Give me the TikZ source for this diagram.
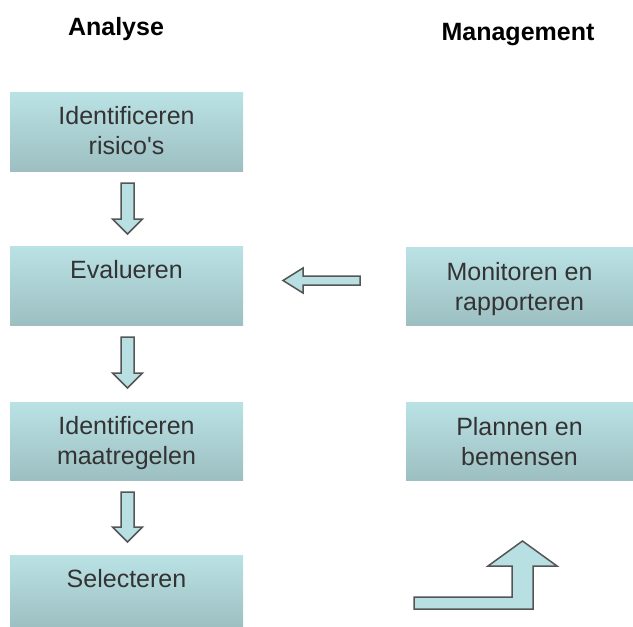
\documentclass[tikz,border=0pt]{standalone}
\usepackage{fontspec}
\setmainfont{Liberation Sans}
\begin{document}
\begin{tikzpicture}[x=1pt,y=-1pt,
  box/.style={rectangle, inner sep=0pt, outer sep=0pt,
    top color=boxtop, bottom color=boxbottom, draw=none},
  boxtext/.style={anchor=north, inner sep=0pt, align=center, text=textgray,
    font=\fontsize{25}{30}\selectfont},
  heading/.style={anchor=base, inner sep=0pt, font=\bfseries\fontsize{25}{30}\selectfont},
  blockarrow/.style={draw=arrowline, fill=arrowfill, line width=1.5pt, line join=miter}
]
\definecolor{boxtop}{HTML}{BAE2E5}
\definecolor{boxbottom}{HTML}{9DBFC1}
\definecolor{textgray}{HTML}{333333}
\definecolor{arrowfill}{HTML}{B8DFE2}
\definecolor{arrowline}{HTML}{555555}

\useasboundingbox (0,0) rectangle (633,627);

% column headings
\node[heading] (hA) at (116,35) {Analyse};
\node[heading] (hM) at (518,40) {Management};

% analysis steps
\node[box, minimum width=233pt, minimum height=79pt] (b1) at (126.5,131.5) {};
\node[box, minimum width=233pt, minimum height=79pt] (b2) at (126.5,285.5) {};
\node[box, minimum width=233pt, minimum height=78pt] (b3) at (126.5,441) {};
\node[box, minimum width=233pt, minimum height=73pt] (b4) at (126.5,591.5) {};

% management steps
\node[box, minimum width=227pt, minimum height=78pt] (m1) at (519.5,286) {};
\node[box, minimum width=227pt, minimum height=78pt] (m2) at (519.5,441) {};

% labels, set near the top of each box
\node[boxtext] (t1) at ([yshift=-14pt]b1.north) {Identificeren\\risico\textquotesingle s};
\node[boxtext] (t2) at ([yshift=-14pt]b2.north) {Evalueren};
\node[boxtext] (t3) at ([yshift=-14pt]b3.north) {Identificeren\\maatregelen};
\node[boxtext] (t4) at ([yshift=-14pt]b4.north) {Selecteren};
\node[boxtext] (t5) at ([yshift=-15pt]m1.north) {Monitoren en\\rapporteren};
\node[boxtext] (t6) at ([yshift=-15pt]m2.north) {Plannen en\\bemensen};

% downward block arrows between the analysis steps
\foreach \top/\base/\tip in {183/219/234, 337/373/388, 492/527/542}{
  \draw[blockarrow] (121,\top) -- (134,\top) -- (134,\base) -- (142.5,\base)
    -- (127.5,\tip) -- (112.5,\base) -- (121,\base) -- cycle;
}

% leftward block arrow from monitoring to evaluation
\draw[blockarrow] (360,276) -- (303,276) -- (303,268) -- (283,280.5)
  -- (303,293) -- (303,285) -- (360,285) -- cycle;

% bent arrow pointing up
\draw[blockarrow] (414,597) -- (512,597) -- (512,566) -- (488,566)
  -- (522.5,541) -- (557,566) -- (533,566) -- (533,609) -- (414,609) -- cycle;
\end{tikzpicture}
\end{document}
